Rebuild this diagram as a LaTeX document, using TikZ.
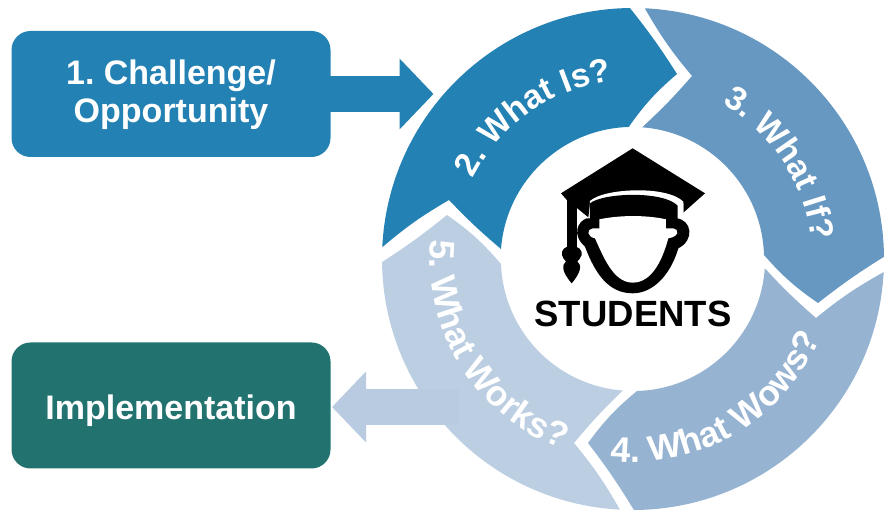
\documentclass[tikz,border=0pt]{standalone}
\usepackage{fontspec}
\setmainfont{Liberation Sans}
\usetikzlibrary{arrows.meta,decorations.text}
\definecolor{segA}{HTML}{2381B3}
\definecolor{segB}{HTML}{6698C2}
\definecolor{segC}{HTML}{97B3D2}
\definecolor{segD}{HTML}{BBCEE2}
\definecolor{arrD}{HTML}{B9CBE1}
\definecolor{tealbox}{HTML}{22726F}
\newcommand{\lblfmt}{\fontsize{33.5}{37}\selectfont\bfseries\color{white}}
\newcommand{\lblfmtb}{\fontsize{35.5}{37}\selectfont\bfseries\color{white}}
\tikzset{
  box/.style={rounded corners=19pt,minimum width=319pt,minimum height=126pt,inner sep=0pt,
    text=white,align=center,font=\frenchspacing\fontsize{34}{38.5}\selectfont\bfseries},
  blockarrow/.style={line width=36pt,-{Triangle[length=34pt,width=69pt]}},
  ringtext/.style={decorate,decoration={text along path,text align=center,text={#1}}}
}
\begin{document}
\begin{tikzpicture}[x=1pt,y=1pt]
\useasboundingbox (0,0) rectangle (887,510);
\coordinate (c) at (633,251);
\node[box,fill=segA] (challenge) at (171,416) {\raisebox{-9.5pt}[0pt][0pt]{1. Challenge/}\\\raisebox{-9.5pt}[0pt][0pt]{Opportunity}};
\node[box,fill=tealbox] (impl) at (171,104.5) {\raisebox{-14.5pt}[0pt][0pt]{Implementation}};
% ring segments
\fill[segA] (c)+(90.7:251) arc[start angle=90.7,end angle=177.3,radius=251pt]
  to[bend left=5] (449,310) to[bend right=3] (501,261)
  arc[start angle=175.7,end angle=91.7,radius=132pt]
  to[bend left=7] (677,436) to[bend right=3] cycle;
\fill[segB] (c)+(87.3:251) arc[start angle=87.3,end angle=0.5,radius=251pt]
  to[bend right=3] (818,207) to[bend left=7] (764,255)
  arc[start angle=1.7,end angle=85.6,radius=132pt]
  to[bend right=3] (692,434) to[bend left=5] cycle;
\fill[segC] (c)+(-3:251) arc[start angle=-3,end angle=-89.8,radius=251pt]
  to[bend right=3] (588,67) to[bend left=7] (637,119)
  arc[start angle=-88.3,end angle=-4,radius=132pt]
  to[bend right=3] (816,192) to[bend left=5] cycle;
\fill[segD] (c)+(267:251) arc[start angle=267,end angle=180.7,radius=251pt]
  to[bend right=3] (447,295) to[bend left=7] (501,246)
  arc[start angle=182.2,end angle=265.6,radius=132pt]
  to[bend right=3] (574,67) to[bend left=5] cycle;
% block arrows
\coordinate (arrowA) at (433.5,416);
\draw[blockarrow,segA,shorten <=-1pt] (challenge.east) -- (arrowA);
\coordinate (arrowB) at (459,103);
\coordinate (arrowBtip) at (332,103);
\draw[blockarrow,arrD] (arrowB) -- (arrowBtip);
% ring labels
\path[ringtext={|\lblfmt|2. What Is?}] (c)+(170:179) arc[start angle=170,end angle=80,radius=179pt];
\path[ringtext={|\lblfmt|3. What If?}] (c)+(78:179) arc[start angle=78,end angle=-12,radius=179pt];
\path[ringtext={|\lblfmtb|4. What Wows?}] (c)+(245.5:203) arc[start angle=245.5,end angle=355.5,radius=203pt];
\path[ringtext={|\lblfmtb|5. What Works?}] (c)+(157:203) arc[start angle=157,end angle=267,radius=203pt];
% student icon, in reference pixels x3
\begin{scope}[shift={(540,370)},x=0.3333pt,y=-0.3333pt]
  % strap and tassel
  \fill (80,175) -- (112,175) -- (112,325) -- (80,325) -- cycle;
  \fill (95,318) .. controls (115,318) and (128,330) .. (125,345)
    .. controls (123,355) and (115,360) .. (112,364)
    .. controls (125,375) and (125,395) .. (95,430)
    .. controls (65,395) and (65,375) .. (78,364)
    .. controls (75,360) and (67,355) .. (66,345)
    .. controls (63,330) and (75,318) .. (95,318) -- cycle;
  % mortarboard
  \fill (63,160) -- (278,25) -- (495,160) -- (430,218) -- (430,190) -- (150,190)
    -- (145,232) -- (112,205) -- (85,185) -- cycle;
  % white gap and band
  \fill[white] (150,183) .. controls (190,145) and (380,135) .. (430,185) -- (430,225) -- (150,225) -- cycle;
  \fill (150,190) .. controls (190,158) and (370,152) .. (413,197) -- (413,240) -- (150,240) -- cycle;
  % head
  \fill (140,235) .. controls (112,245) and (95,285) .. (135,320)
    .. controls (165,400) and (205,460) .. (278,460)
    .. controls (345,460) and (395,395) .. (415,325)
    .. controls (465,300) and (455,240) .. (410,235) -- cycle;
  \fill[white] (178,238) .. controls (240,225) and (320,225) .. (378,238) -- (378,265) -- (400,265)
    .. controls (418,268) and (418,290) .. (385,295)
    .. controls (370,350) and (340,428) .. (278,428)
    .. controls (220,428) and (190,350) .. (165,295)
    .. controls (140,290) and (140,268) .. (158,265) -- (178,265) -- cycle;
\end{scope}
\node[font=\fontsize{36.5}{40}\selectfont\bfseries,inner sep=0pt] (students) at (633,196) {STUDENTS};
\end{tikzpicture}
\end{document}
